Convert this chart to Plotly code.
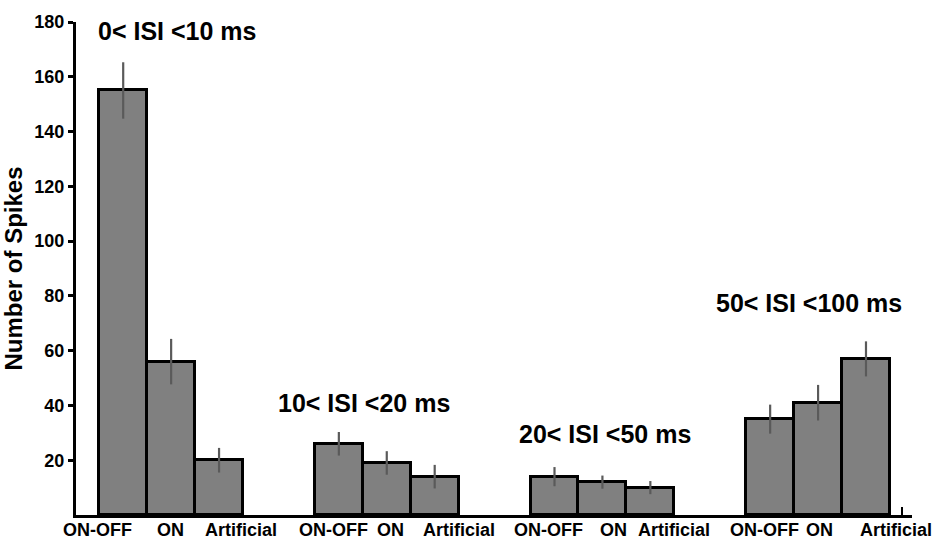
import plotly.graph_objects as go

# ---- data ----
group_titles = ["0< ISI <10 ms", "10< ISI <20 ms", "20< ISI <50 ms", "50< ISI <100 ms"]
cell_types = ["ON-OFF", "ON", "Artificial"]
spikes = [
    [155, 56, 20],
    [26, 19, 14],
    [14, 12, 10],
    [35, 41, 57],
]
errors = [
    [10.3, 8.3, 4.5],
    [4.3, 4.3, 4.3],
    [3.5, 2.4, 2.4],
    [5.3, 6.5, 6.4],
]
y_ticks = [20, 40, 60, 80, 100, 120, 140, 160, 180]

# ---- layout helpers (positions / styles) ----
GROUP_STEP = 4.5
label_xshift = [[-26, -1, 22], [-5, 4, 24], [-6, 11, 24], [-6, 1, 30]]
title_pos = [(1.13, 176.8), (5.03, 40.9), (10.06, 29.7), (14.31, 77.5)]

FONT = "Liberation Sans, Arial, Helvetica, sans-serif"

xs, ys, es = [], [], []
for g in range(len(group_titles)):
    for i in range(len(cell_types)):
        xs.append(g * GROUP_STEP + i)
        ys.append(spikes[g][i])
        es.append(errors[g][i])

fig = go.Figure()
fig.add_trace(go.Bar(
    x=xs, y=ys, width=1.0,
    marker=dict(color="#808080", line=dict(color="black", width=3)),
    error_y=dict(type="data", array=es, visible=True, color="#5a5a5a",
                 thickness=2.2, width=0),
    showlegend=False,
))

annotations = []
for g in range(len(group_titles)):
    for i, lab in enumerate(cell_types):
        annotations.append(dict(
            x=g * GROUP_STEP + i, y=0, xref="x", yref="y",
            text=lab, showarrow=False, yanchor="top", yshift=-3,
            xshift=label_xshift[g][i],
            font=dict(family=FONT, size=18, color="black", weight="bold"),
        ))
    tx, ty = title_pos[g]
    annotations.append(dict(
        x=tx, y=ty, xref="x", yref="y", text=group_titles[g],
        showarrow=False, xanchor="center", yanchor="middle",
        font=dict(family=FONT, size=25, color="black", weight="bold"),
    ))

fig.update_layout(
    width=939, height=539,
    margin=dict(l=76, r=27, t=19, b=24),
    plot_bgcolor="white", paper_bgcolor="white",
    bargap=0,
    annotations=annotations,
    xaxis=dict(
        range=[-0.985, 16.46], showgrid=False, zeroline=False,
        showline=True, linecolor="black", linewidth=3,
        tickvals=[16.25], ticks="inside", ticklen=8, tickwidth=2,
        tickcolor="black", showticklabels=False,
    ),
    yaxis=dict(
        range=[0, 180], showgrid=False, zeroline=False,
        showline=True, linecolor="black", linewidth=3,
        tickvals=y_ticks, ticks="outside", ticklen=5, tickwidth=3,
        tickcolor="black",
        tickfont=dict(family=FONT, size=18, color="black", weight="bold"),
        title=dict(text="Number of Spikes", standoff=6,
                   font=dict(family=FONT, size=24, color="black", weight="bold")),
    ),
)

fig.write_html("out.html")
